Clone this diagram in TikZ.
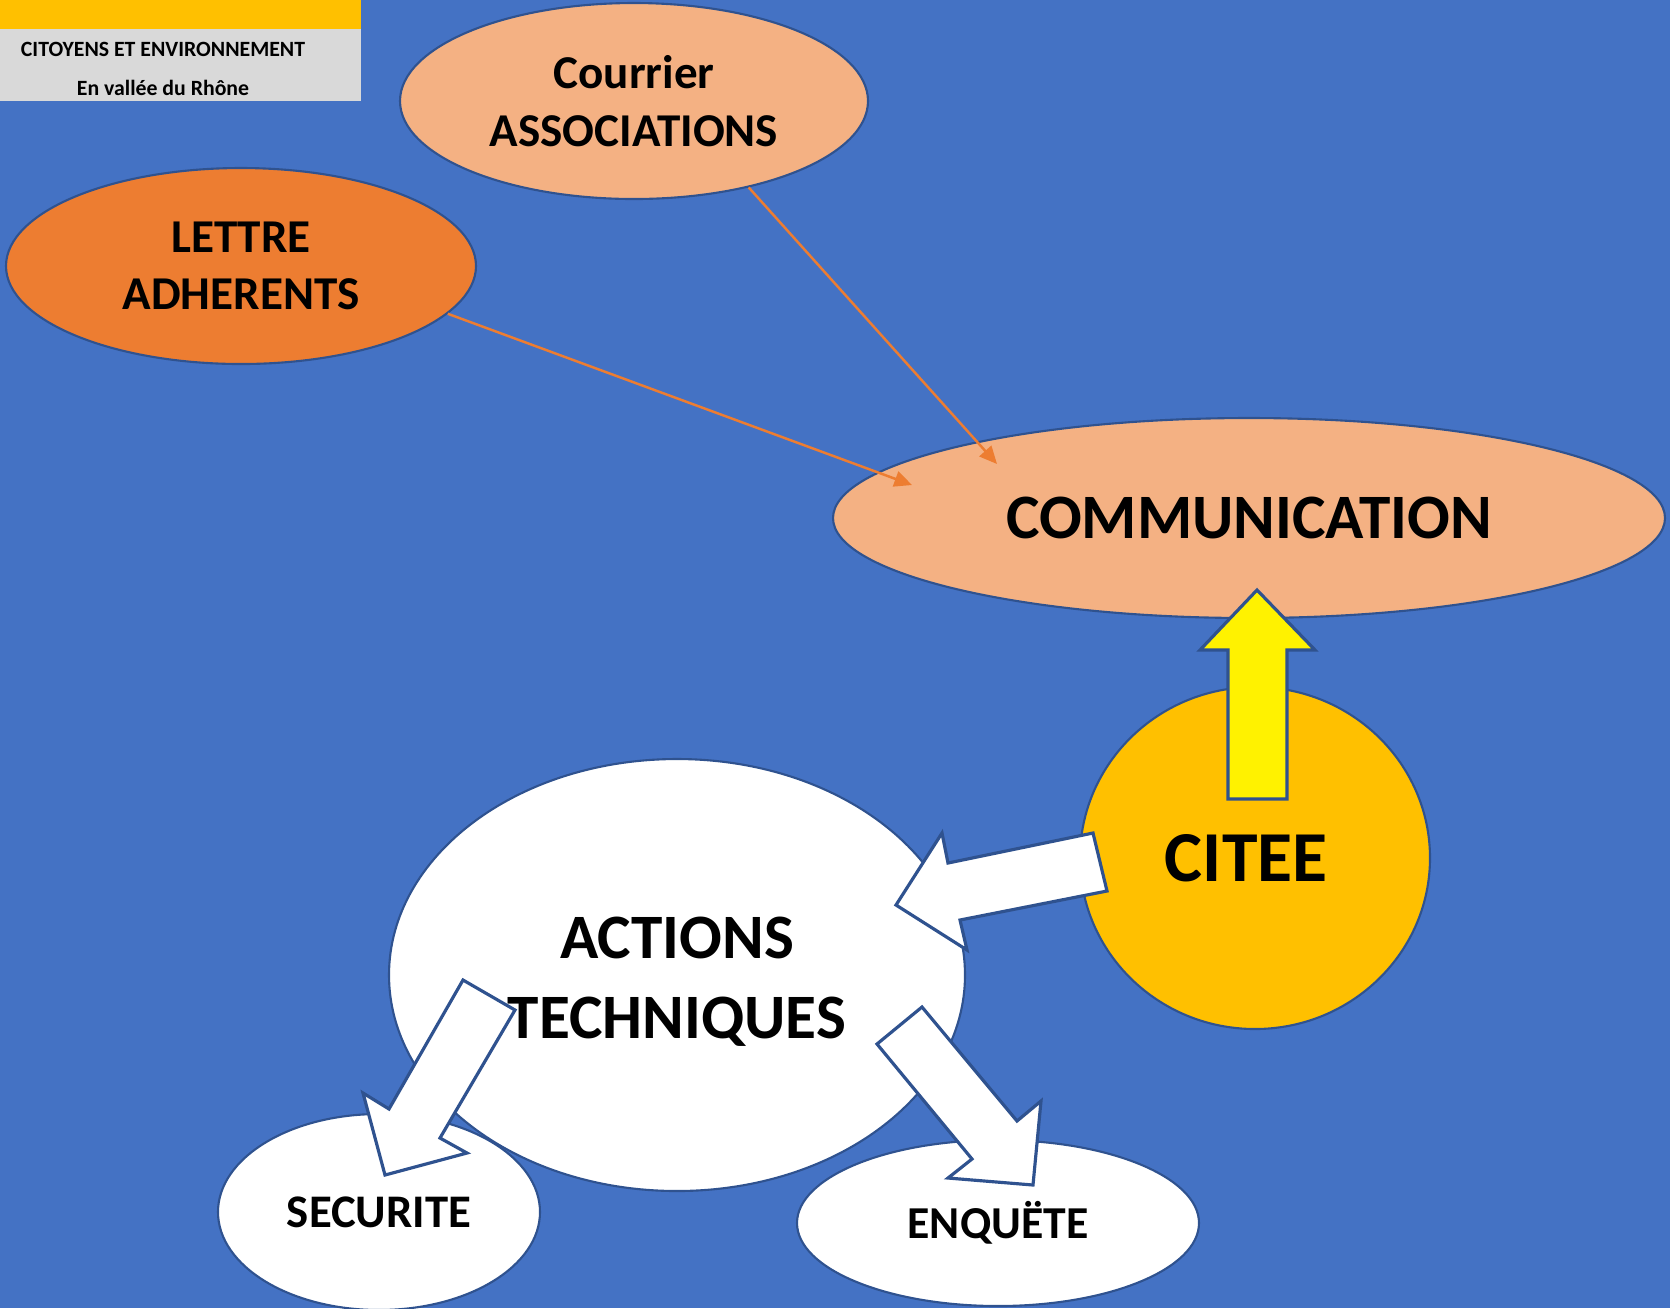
\documentclass[tikz,border=0pt]{standalone}
\usepackage{fontspec}
\setmainfont{Carlito}
\usepackage{tikz}
\usetikzlibrary{shapes.geometric,arrows.meta}

\definecolor{bgblue}{HTML}{4472C4}
\definecolor{edgeblue}{HTML}{2F528F}
\definecolor{paleorange}{HTML}{F4B183}
\definecolor{darkorange}{HTML}{ED7D31}
\definecolor{gold}{HTML}{FFC000}
\definecolor{boxgray}{HTML}{D9D9D9}

\begin{document}
\begin{tikzpicture}[x=0.1mm, y=-0.1mm,
    bubble/.style={ellipse, draw=edgeblue, line width=0.6pt, inner sep=0pt, align=center, font=\bfseries},
    thinarrow/.style={draw=darkorange, line width=0.7pt, -{Triangle[length=5pt,width=4.5pt]}},
    bigarrow/.style={draw=edgeblue, line width=0.9pt, fill=white}]
    \useasboundingbox (0,0) rectangle (1670,1308);
    \fill[bgblue] (0,0) rectangle (1670,1308);
    \clip (0,0) rectangle (1670,1308);

    % header
    \fill[gold] (0,0) rectangle (361,29);
    \fill[boxgray] (0,29) rectangle (361,101);
    \node[inner sep=0pt, align=center, font=\fontsize{6.2}{10.9}\selectfont\bfseries] (header) at (163,69)
          {CITOYENS ET ENVIRONNEMENT\\En vallée du Rhône};

    \node[bubble, fill=paleorange, minimum width=46.8mm, minimum height=19.6mm,
          font=\fontsize{13.4}{16.4}\selectfont\bfseries] (courrier) at (634,101) {Courrier\\ASSOCIATIONS};
    \node[bubble, fill=darkorange, minimum width=47mm, minimum height=19.6mm,
          font=\fontsize{13.4}{16.4}\selectfont\bfseries] (lettre) at (241,266) {LETTRE\\ADHERENTS};
    \node[bubble, fill=paleorange, minimum width=83.2mm, minimum height=20mm,
          font=\fontsize{18}{22}\selectfont\bfseries] (comm) at (1249,518) {COMMUNICATION};

    \coordinate (c1) at (997,464);
    \coordinate (c2) at (912,485);
    \draw[thinarrow] (courrier.-37.6) -- (c1);
    \draw[thinarrow] (lettre.-13.3) -- (c2);

    \node[bubble, fill=gold, minimum width=35mm, minimum height=34.2mm,
          font=\fontsize{20.4}{24}\selectfont\bfseries] (citee) at (1255,858) {CITEE\hspace{5pt}};
    \draw[bigarrow, fill=yellow] (1257,590) -- (1315,650) -- (1287,650) -- (1287,799)
        -- (1228,799) -- (1228,650) -- (1200,650) -- cycle;

    \node[bubble, fill=white, minimum width=32.2mm, minimum height=19.6mm,
          font=\fontsize{13.3}{16}\selectfont\bfseries] (securite) at (379,1212) {SECURITE};
    \node[bubble, fill=white, minimum width=40.2mm, minimum height=16.6mm,
          font=\fontsize{13}{16}\selectfont\bfseries] (enquete) at (998,1223) {ENQUËTE};
    \node[bubble, fill=white, minimum width=57.6mm, minimum height=43.2mm,
          font=\fontsize{18}{23}\selectfont\bfseries] (actions) at (677,975) {\rule{0pt}{15.6pt}ACTIONS\\TECHNIQUES};

    % block arrows
    \draw[bigarrow] (1093,833) -- (1107,891) -- (960,920) -- (967,950) -- (896,905)
        -- (942,833) -- (948,863) -- cycle;
    \draw[bigarrow] (463,980) -- (515,1010) -- (440,1138) -- (467,1153) -- (385,1175)
        -- (363,1093) -- (389,1109) -- cycle;
    \draw[bigarrow] (922,1007) -- (877,1044) -- (972,1159) -- (948,1178) -- (1033,1185)
        -- (1041,1101) -- (1017,1121) -- cycle;
\end{tikzpicture}
\end{document}
